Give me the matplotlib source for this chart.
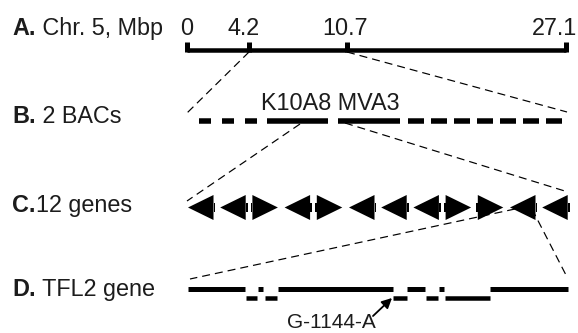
import matplotlib.pyplot as plt
from matplotlib.patches import Polygon, Rectangle

plt.rcParams['font.family'] = ['Liberation Sans', 'DejaVu Sans']
plt.rcParams['lines.scale_dashes'] = False

# Painel A: cromossomo 5 (posições esquemáticas em px)
chr_labels = ['0', '4.2', '10.7', '27.1']
chr_ticks = [187, 249, 346.5, 566]
chr_label_x = [186.5, 244, 345, 577]

# Painel B: BACs
bac_names = 'K10A8 MVA3'
bac_solid = [(267, 328), (338, 400)]
bac_dash_left = (199, 258)
bac_dash_right = (408, 563)

# Painel C: 12 genes (L = esquerda, R = direita)
gene_dirs = ['L', 'L', 'R', 'L', 'R', 'L', 'L', 'L', 'R', 'R', 'L', 'L']

# Painel D: gene TFL2 (segmentos alto/baixo)
tfl2_high = [(188, 245), (258, 263), (278, 393), (407, 425), (439, 444), (490, 568)]
tfl2_low = [(246, 257), (265, 277), (393, 407), (426, 438), (445, 490)]
snp_label = 'G-1144-A'

# Linhas tracejadas ligando os painéis
zoom_lines = [
    ((249, 52), (187, 113)),
    ((347, 52), (567, 112)),
    ((300, 124), (187, 201)),
    ((345, 123), (568, 192)),
    ((515, 209), (190, 279)),
    ((532, 209), (567, 277)),
]

row_labels = [('A.', ' Chr. 5, Mbp', 35), ('B.', ' 2 BACs', 123),
              ('C.', '12 genes', 212), ('D.', ' TFL2 gene', 296)]

fig = plt.figure(figsize=(5.78, 3.33), dpi=100)
ax = fig.add_axes([0, 0, 1, 1])
ax.set_xlim(0, 578)
ax.set_ylim(333, 0)
ax.axis('off')
renderer = fig.canvas.get_renderer()

px = 0.72  # px -> pt
ink = '#1c1c1c'
fs = 16.8

# rótulos das linhas (parte em negrito + resto)
for bold, rest, yb in row_labels:
    t = ax.text(12, yb, bold, fontsize=fs, fontweight='bold', va='baseline', color=ink)
    w = t.get_window_extent(renderer).width
    ax.text(12 + w, yb, rest, fontsize=fs, va='baseline', color=ink)

# A
ax.plot([chr_ticks[0], chr_ticks[-1]], [50, 50], color='k', lw=4.5 * px, solid_capstyle='butt')
for xt in chr_ticks:
    ax.plot([xt, xt], [42, 52], color='k', lw=5 * px, solid_capstyle='butt')
for lab, xl in zip(chr_labels, chr_label_x):
    ha = 'right' if lab == chr_labels[-1] else 'center'
    ax.text(xl, 35, lab, fontsize=fs, ha=ha, va='baseline', color=ink)

# B
ax.plot(bac_dash_left, [120.5, 120.5], color='k', lw=5.5 * px,
        linestyle=(0, (12 * px, 11 * px)), dash_capstyle='butt')
ax.plot(bac_dash_right, [120.5, 120.5], color='k', lw=5.5 * px,
        linestyle=(0, (16 * px, 7 * px)), dash_capstyle='butt')
for x0, x1 in bac_solid:
    ax.plot([x0, x1], [120.5, 120.5], color='k', lw=5.5 * px, solid_capstyle='butt')
ax.text(261, 110, bac_names, fontsize=fs, va='baseline', color=ink)

# C
g0, pitch, gw, gh, gy = 188, 32.2, 25.5, 25, 207.5
for i, d in enumerate(gene_dirs):
    xa = g0 + i * pitch
    xb = xa + gw
    if d == 'L':
        tri = [(xa, gy), (xb, gy - gh / 2), (xb, gy + gh / 2)]
        stub = Rectangle((xb, gy - 4.5), 1.8, 9, color='k', lw=0)
    else:
        tri = [(xb, gy), (xa, gy - gh / 2), (xa, gy + gh / 2)]
        stub = Rectangle((xa - 1.8, gy - 4.5), 1.8, 9, color='k', lw=0)
    ax.add_patch(Polygon(tri, closed=True, color='k', lw=0))
    ax.add_patch(stub)

# D
for x0, x1 in tfl2_high:
    ax.plot([x0, x1], [289, 289], color='k', lw=5 * px, solid_capstyle='butt')
for x0, x1 in tfl2_low:
    ax.plot([x0, x1], [297.5, 297.5], color='k', lw=4.5 * px, solid_capstyle='butt')
ax.annotate('', xy=(392, 298), xytext=(373, 316),
            arrowprops=dict(arrowstyle='-|>', lw=1.3, color='k', mutation_scale=15,
                            shrinkA=0, shrinkB=0))
ax.text(331, 328, snp_label, fontsize=15, ha='center', va='baseline', color=ink)

# linhas de zoom
for (xa, ya), (xb, yb) in zoom_lines:
    ax.plot([xa, xb], [ya, yb], color='k', lw=1.2 * px,
            linestyle=(0, (8 * px, 5 * px)))

fig.savefig('out.png', dpi=100)
